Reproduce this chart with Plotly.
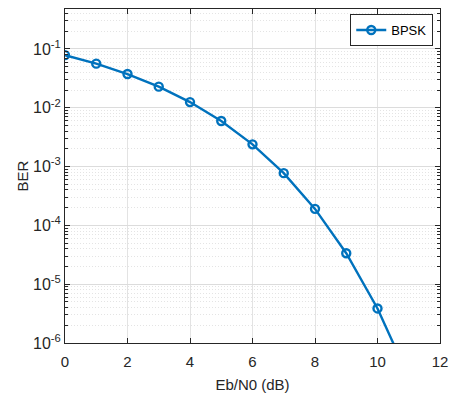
import plotly.graph_objects as go

ebn0_db = [0, 1, 2, 3, 4, 5, 6, 7, 8, 9, 10, 11]
ber_bpsk = [7.86e-2, 5.63e-2, 3.75e-2, 2.29e-2, 1.25e-2, 5.95e-3, 2.39e-3,
            7.73e-4, 1.91e-4, 3.36e-5, 3.87e-6, 2.6e-7]
y_tickvals = [1e-6, 1e-5, 1e-4, 1e-3, 1e-2, 1e-1]
y_ticktext = ["10<sup>-6</sup>", "10<sup>-5</sup>", "10<sup>-4</sup>",
              "10<sup>-3</sup>", "10<sup>-2</sup>", "10<sup>-1</sup>"]
x_tickvals = [0, 2, 4, 6, 8, 10, 12]
y_minor_vals = [m * 10.0 ** e for e in range(-6, 0) for m in range(2, 10)]

blue = "#0072BD"
axcol = "#262626"
font = "Liberation Sans, Arial, sans-serif"

fig = go.Figure()
fig.add_trace(go.Scatter(
    x=ebn0_db, y=ber_bpsk, mode="lines+markers", name="BPSK",
    line=dict(color=blue, width=2.4),
    marker=dict(symbol="circle-open", size=8, color=blue, line=dict(width=2.4, color=blue)),
))

fig.update_layout(
    width=451, height=394,
    margin=dict(l=65, r=11, t=9, b=51, autoexpand=False),
    paper_bgcolor="white", plot_bgcolor="white",
    font=dict(family=font, size=13, color=axcol),
    showlegend=True,
    legend=dict(x=0.982, y=0.985, xanchor="right", yanchor="top",
                bgcolor="white", bordercolor=axcol, borderwidth=1,
                font=dict(size=13, color="black"),
                itemwidth=30, tracegroupgap=0),
)
fig.update_xaxes(
    range=[0, 12], tickvals=x_tickvals, ticks="inside", ticklen=5,
    tickcolor=axcol, showline=True, linecolor=axcol, linewidth=1, mirror="ticks",
    showgrid=True, gridcolor="#e3e3e3", gridwidth=1, zeroline=False,
    automargin=False, ticklabelstandoff=5,
    title=dict(text="Eb/N0 (dB)", font=dict(size=15, color=axcol), standoff=10),
    tickfont=dict(size=15, color=axcol),
)
fig.update_yaxes(
    type="log", range=[-6, -0.32], tickvals=y_tickvals, ticktext=y_ticktext,
    ticks="inside", ticklen=5, tickcolor=axcol,
    showline=True, linecolor=axcol, linewidth=1, mirror="ticks",
    showgrid=True, gridcolor="#dcdcdc", gridwidth=1, zeroline=False,
    automargin=False,
    minor=dict(tickmode="array", tickvals=y_minor_vals, ticks="inside", ticklen=3,
               tickcolor=axcol, showgrid=True,
               gridcolor="#e4e4e4", griddash="1px,2px", gridwidth=1),
    title=dict(text="BER", font=dict(size=15, color=axcol), standoff=0),
    tickfont=dict(size=16, color=axcol),
)

fig.write_html("out.html", config={"displayModeBar": False},
               post_script="document.body.style.margin='0';")
